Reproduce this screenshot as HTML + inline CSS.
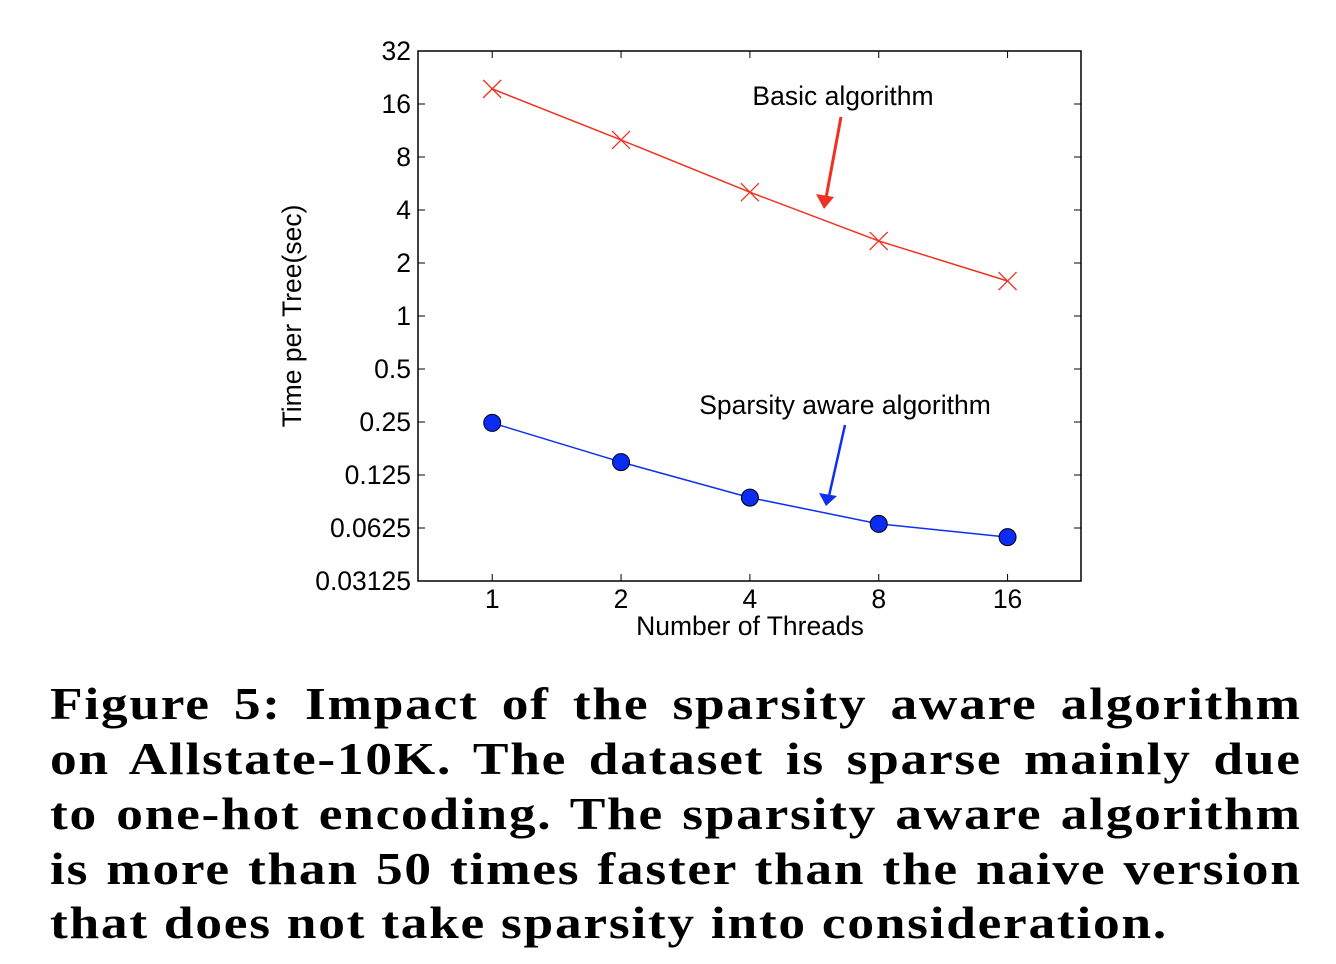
<!DOCTYPE html>
<html><head><meta charset="utf-8"><style>
body{margin:0;background:#fff;width:1336px;height:964px;overflow:hidden;position:relative}
.cap{position:absolute;left:50px;width:1079px;font-family:"Liberation Serif",serif;font-weight:bold;font-size:46px;letter-spacing:1.5px;text-align:justify;text-align-last:justify;white-space:nowrap;line-height:55px;transform:scaleX(1.16);transform-origin:0 0}
</style></head><body>
<svg width="1336" height="660" style="position:absolute;left:0;top:0" id="chart" font-family="Liberation Sans, sans-serif"></svg>
<div class="cap" style="top:676px">Figure 5: Impact of the sparsity aware algorithm</div>
<div class="cap" style="top:731px">on Allstate-10K. The dataset is sparse mainly due</div>
<div class="cap" style="top:786px">to one-hot encoding. The sparsity aware algorithm</div>
<div class="cap" style="top:841px">is more than 50 times faster than the naive version</div>
<div class="cap" style="top:895px;text-align-last:left;width:auto">that does not take sparsity into consideration.</div>
<script>
const threads=[1,2,4,8,16];
const basicTimes=[19.5,10,5.05,2.67,1.58];
const sparseTimes=[0.247,0.148,0.093,0.066,0.0555];
const yTicks=[32,16,8,4,2,1,0.5,0.25,0.125,0.0625,0.03125];
const yTickLabels=["32","16","8","4","2","1","0.5","0.25","0.125","0.0625","0.03125"];
const xTickLabels=["1","2","4","8","16"];
const L=418,R=1081,T=51,B=581;
const xLo=-0.576,xHi=4.57,yLo=-5,yHi=5;
const xs=v=>L+(Math.log2(v)-xLo)/(xHi-xLo)*(R-L);
const ys=v=>B-(Math.log2(v)-yLo)/(yHi-yLo)*(B-T);
const svg=document.getElementById('chart');
const NS='http://www.w3.org/2000/svg';
function mk(tag,attrs,parent){const e=document.createElementNS(NS,tag);for(const k in attrs)e.setAttribute(k,attrs[k]);(parent||svg).appendChild(e);return e;}
let e=mk('rect',{x:L,y:T,width:R-L,height:B-T,fill:'none',stroke:'#000','stroke-width':1.5});


yTicks.forEach((v,i)=>{const y=ys(v);
 mk('line',{x1:L,x2:L+7,y1:y,y2:y,stroke:'#000'});mk('line',{x1:R-7,x2:R,y1:y,y2:y,stroke:'#000'});
 const t=mk('text',{x:L-7,y:y+9,'text-anchor':'end','font-size':26.5});t.textContent=yTickLabels[i];
 
 });
threads.forEach((v,i)=>{const x=xs(v);
 mk('line',{x1:x,x2:x,y1:B,y2:B-7,stroke:'#000'});mk('line',{x1:x,x2:x,y1:T,y2:T+7,stroke:'#000'});
 const t=mk('text',{x:x,y:B+27,'text-anchor':'middle','font-size':26.5});t.textContent=xTickLabels[i];
 
 });
let t=mk('text',{x:750,y:635,'text-anchor':'middle','font-size':26.5});t.textContent='Number of Threads';


t=mk('text',{x:0,y:0,'text-anchor':'middle','font-size':26.5,transform:'translate(301,316) rotate(-90)'});t.textContent='Time per Tree(sec)';


let p=mk('polyline',{points:threads.map((v,i)=>xs(v)+','+ys(basicTimes[i])).join(' '),fill:'none',stroke:'#f03020','stroke-width':1.5});


threads.forEach((v,i)=>{const x=xs(v),y=ys(basicTimes[i]);
 const g=mk('path',{d:`M${x-9},${y-9}L${x+9},${y+9}M${x-9},${y+9}L${x+9},${y-9}`,stroke:'#f03020','stroke-width':1.3});
 
 });
p=mk('polyline',{points:threads.map((v,i)=>xs(v)+','+ys(sparseTimes[i])).join(' '),fill:'none',stroke:'#1030f0','stroke-width':1.5});


threads.forEach((v,i)=>{
 const c=mk('circle',{cx:xs(v),cy:ys(sparseTimes[i]),r:8.5,fill:'#0a2cf5',stroke:'#000','stroke-width':1});
 
 });
t=mk('text',{x:843,y:105,'text-anchor':'middle','font-size':26.5});t.textContent='Basic algorithm';


mk('line',{x1:841,y1:117,x2:826,y2:198,stroke:'#f03020','stroke-width':3});
mk('path',{d:'M816,194 L824,209 L834,197 Z',fill:'#f03020'});
t=mk('text',{x:845,y:414,'text-anchor':'middle','font-size':26.5});t.textContent='Sparsity aware algorithm';


mk('line',{x1:845,y1:425,x2:829,y2:496,stroke:'#1030f0','stroke-width':2.5});
mk('path',{d:'M819,493 L826,506 L837,496 Z',fill:'#1030f0'});
</script>
</body></html>
